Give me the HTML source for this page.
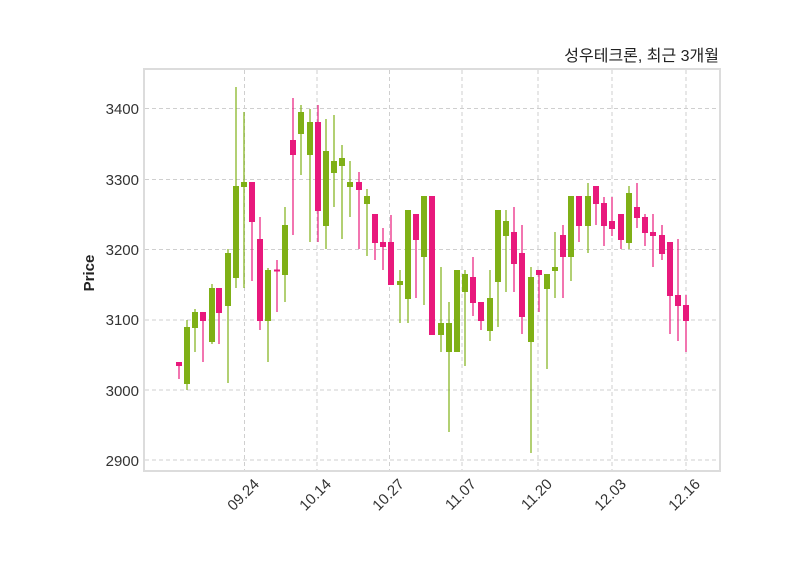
<!DOCTYPE html>
<html><head><meta charset="utf-8"><style>
html,body{margin:0;padding:0;background:#fff;}
svg{display:block;font-family:"Liberation Sans","Noto Sans CJK KR",sans-serif;}
</style></head><body>
<svg id="s" width="800" height="575" viewBox="0 0 800 575" xmlns="http://www.w3.org/2000/svg">
<rect x="0" y="0" width="800" height="575" fill="#fff"/>
<g stroke="#cfcfcf" stroke-width="1" stroke-dasharray="4,3">
<line x1="145" x2="719" y1="108.5" y2="108.5"/>
<line x1="145" x2="719" y1="179.5" y2="179.5"/>
<line x1="145" x2="719" y1="249.5" y2="249.5"/>
<line x1="145" x2="719" y1="320" y2="320"/>
<line x1="145" x2="719" y1="390" y2="390"/>
<line x1="145" x2="719" y1="460" y2="460"/>
<line x1="244.5" x2="244.5" y1="70" y2="470"/>
<line x1="317" x2="317" y1="70" y2="470"/>
<line x1="389.5" x2="389.5" y1="70" y2="470"/>
<line x1="462" x2="462" y1="70" y2="470"/>
<line x1="538" x2="538" y1="70" y2="470"/>
<line x1="612" x2="612" y1="70" y2="470"/>
<line x1="686" x2="686" y1="70" y2="470"/>
</g>
<g id="c"></g>
<rect x="144" y="69" width="576" height="402" fill="none" stroke="#dcdcdc" stroke-width="2"/>
<g font-size="15" fill="#333" text-anchor="end">
<text x="139" y="114">3400</text>
<text x="139" y="185">3300</text>
<text x="139" y="255">3200</text>
<text x="139" y="325">3100</text>
<text x="139" y="396">3000</text>
<text x="139" y="466">2900</text>
</g>
<g font-size="15" fill="#333" text-anchor="end">
<text transform="translate(260,485) rotate(-45)">09.24</text>
<text transform="translate(332,485) rotate(-45)">10.14</text>
<text transform="translate(405,485) rotate(-45)">10.27</text>
<text transform="translate(477,485) rotate(-45)">11.07</text>
<text transform="translate(553,485) rotate(-45)">11.20</text>
<text transform="translate(627,485) rotate(-45)">12.03</text>
<text transform="translate(701,485) rotate(-45)">12.16</text>
</g>
<text transform="translate(94,273) rotate(-90)" font-size="15" font-weight="bold" fill="#222" text-anchor="middle">Price</text>
<text x="719" y="61" font-size="16" fill="#222" text-anchor="end">성우테크론, 최근 3개월</text>
</svg>
<script>
var d=[
[179,'r',362,366,362,379],[187,'g',327,384,320,390],[195,'g',312,328,309,352],[203,'r',312,321,312,362],
[212,'g',288,342,284,344],[219,'r',288,313,288,344],[228,'g',253,306,249,383],[236,'g',186,278,87,288],
[244,'g',182,187,112,288],[252,'r',182,222,182,281],[260,'r',239,321,217,330],[268,'g',270,321,268,362],
[277,'r',269.5,271,260,312],[285,'g',225,275,207,302],[293,'r',140,155,98,235],[301,'g',112,134,105,175],
[310,'g',122,155,109,242],[318,'r',122,211,105,242],[326,'g',151,226,119,249],[334,'g',161,173,115,207],
[342,'g',158,166,145,239],[350,'g',182,187,161,217],[359,'r',182,190,172,249],[367,'g',196,204,189,256],
[375,'r',214,243,214,260],[383,'r',242,247,228,270],[391,'r',242,285,215,285],[400,'g',281,285,270,323],
[408,'g',210,299,210,323],[416,'r',214,240,214,298],[424,'g',196,257,196,305],[432,'r',196,335,196,335],
[441,'g',323,335,267,352],[449,'g',323,352,302,432],[457,'g',270,352,270,352],[465,'g',274,292,270,366],
[473,'r',277,303,257,316],[481,'r',302,321,302,330],[490,'g',298,331,270,341],[498,'g',210,282,210,327],
[506,'g',221,236,210,292],[514,'r',232,264,207,292],[522,'r',253,317,225,334],[531,'g',277,342,267,453],
[539,'r',270,275,270,312],[547,'g',274,289,274,369],[555,'g',267,271,232,298],[563,'r',235,257,225,298],
[571,'g',196,257,196,281],[579,'r',196,226,196,242],[588,'g',196,226,183,253],[596,'r',186,204,186,225],
[604,'r',203,226,197,246],[612,'r',221,229,197,236],[621,'r',214,240,214,249],[629,'g',193,243,186,249],
[637,'r',207,218,183,228],[645,'r',217,233,214,246],[653,'r',232,236,214,267],[662,'r',235,254,225,260],
[670,'r',242,296,242,334],[678,'r',295,306,239,341],[686,'r',305,321,295,352]];
var h='';
d.forEach(function(c){var col=c[1]=='g'?'#7fb016':'#e8197c';
h+='<line x1="'+c[0]+'" x2="'+c[0]+'" y1="'+c[4]+'" y2="'+c[5]+'" stroke="'+col+'" stroke-width="1.2"/>';
var hh=Math.max(c[3]-c[2],2);
h+='<rect x="'+(c[0]-3)+'" y="'+c[2]+'" width="6" height="'+hh+'" fill="'+col+'"/>';});
document.getElementById('c').innerHTML=h;
</script>
</body></html>
